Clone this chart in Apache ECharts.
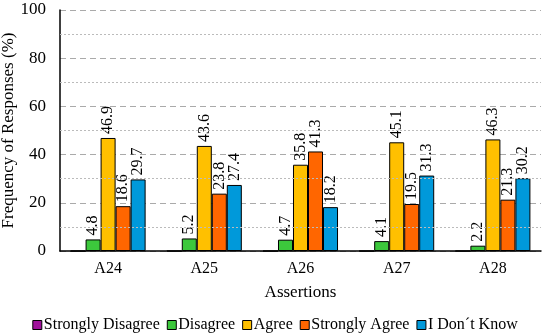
<!DOCTYPE html>
<html><head><meta charset="utf-8">
<script src="https://cdn.jsdelivr.net/npm/echarts@6/dist/echarts.min.js"></script>
<style>html,body{margin:0;padding:0;background:#fff}#c{width:550px;height:336px}</style>
</head><body><div id="c"></div>
<script>
var categories = ['A24','A25','A26','A27','A28'];
var seriesNames = ['Strongly Disagree','Disagree','Agree','Strongly Agree','I Don\u00b4t Know'];
var stronglyDisagree = [0,0,0,0,0];
var disagree = [4.8,5.2,4.7,4.1,2.2];
var agree = [46.9,43.6,35.8,45.1,46.3];
var stronglyAgree = [18.6,23.8,41.3,19.5,21.3];
var dontKnow = [29.7,27.4,18.2,31.3,30.2];
var yTicks = [0,20,40,60,80,100];
var colors = ['#A0119B','#3CC83C','#FFC000','#FF6600','#0099DA'];
var font = '"Liberation Serif", "Times New Roman", serif';
var allData = [stronglyDisagree,disagree,agree,stronglyAgree,dontKnow];
var chart = echarts.init(document.getElementById('c'));
var series = allData.map(function(d,i){
  return {name:seriesNames[i],type:'bar',data:d,barGap:'0%',barCategoryGap:'22%',
    itemStyle:{color:colors[i],borderColor:'#000',borderWidth:1},
    label:{show:true,position:'top',rotate:90,align:'left',verticalAlign:'middle',distance:4,
      fontFamily:font,fontSize:16,color:'#000',
      formatter:function(p){return p.value===0?'':p.value.toFixed(1);}}};
});
series.push({type:'line',data:[],markLine:{silent:true,symbol:'none',label:{show:false},
  lineStyle:{color:'#bbb',type:[2,2],width:1},
  data:[10,30,50,70,90].map(function(v){return {yAxis:v};})}});
chart.setOption({
  animation:false,
  grid:{left:60,right:9,top:10,bottom:85,containLabel:false,outerBoundsMode:'none'},
  legend:{top:312,left:'center',itemWidth:9,itemHeight:9,itemGap:7,
    data:seriesNames.map(function(n){return {name:n,icon:'rect',itemStyle:{borderColor:'#000',borderWidth:1}};}),
    textStyle:{fontFamily:font,fontSize:16,color:'#000',padding:[0,0,0,-3]}},
  xAxis:{type:'category',data:categories,name:'Assertions',nameLocation:'middle',nameGap:33,nameMoveOverlap:false,
    nameTextStyle:{fontFamily:font,fontSize:17,color:'#000'},
    axisLine:{lineStyle:{color:'#000',width:1.5}},axisTick:{show:false},
    axisLabel:{fontFamily:font,fontSize:16,color:'#000',margin:10}},
  yAxis:{type:'value',min:0,max:100,interval:20,name:'Frequency of Responses (%)',nameLocation:'middle',nameGap:43,nameMoveOverlap:false,
    nameTextStyle:{fontFamily:font,fontSize:17,color:'#000'},
    axisLine:{show:true,lineStyle:{color:'#000',width:1.5}},axisTick:{show:false},
    axisLabel:{fontFamily:font,fontSize:17,color:'#000',margin:14},
    splitLine:{lineStyle:{color:'#aaa',type:[6,4],width:1}}},
  series:series
});
</script></body></html>
